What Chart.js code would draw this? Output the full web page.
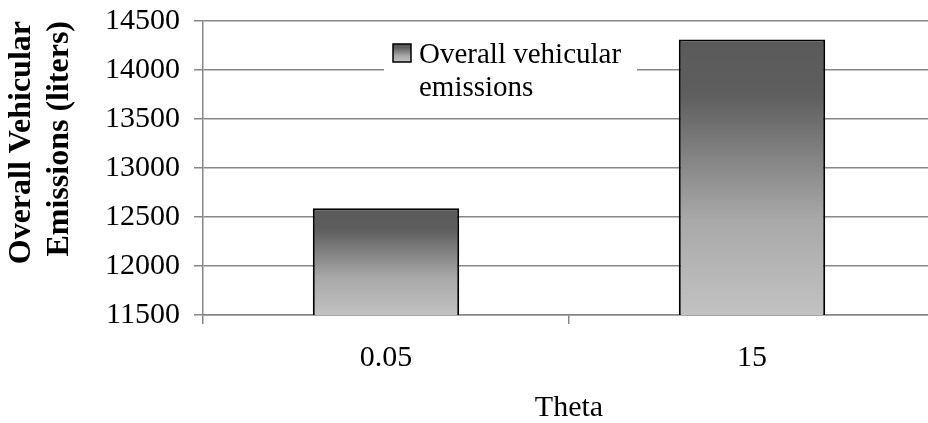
<!DOCTYPE html>
<html>
<head>
<meta charset="utf-8">
<script src="https://cdn.jsdelivr.net/npm/chart.js@4/dist/chart.umd.min.js"></script>
<style>
  html, body { margin: 0; padding: 0; background: #fff; overflow: hidden; }
  #wrap { width: 935px; height: 423px; }
</style>
</head>
<body>
<div id="wrap"><canvas id="chart" width="935" height="423"></canvas></div>
<script>
const categories = ['0.05', '15'];
const emissions = [12590, 14310];
const seriesLabel = ['Overall vehicular', 'emissions'];
const yTitle = ['Overall Vehicular', 'Emissions (liters)'];
const xTitle = 'Theta';

const serif = "'Liberation Serif', 'Times New Roman', serif";
const gridGray = '#878787';

function barGradient(ctx, top, bottom) {
  const g = ctx.createLinearGradient(0, top, 0, bottom);
  g.addColorStop(0, '#5a5a5a');
  g.addColorStop(0.2, '#5e5e5e');
  g.addColorStop(0.65, '#a8a8a8');
  g.addColorStop(1, '#c2c2c2');
  return g;
}

// legend drawn inside the plot, over the gridlines
const boxLegend = {
  id: 'boxLegend',
  afterDatasetsDraw(chart) {
    const {ctx, chartArea} = chart;
    const x = chartArea.left + 181, y = chartArea.top + 11;
    ctx.save();
    ctx.fillStyle = '#fff';
    ctx.fillRect(x, y, 253, 74);
    const mx = x + 9, my = y + 12, ms = 18;
    ctx.fillStyle = barGradient(ctx, my, my + ms);
    ctx.fillRect(mx, my, ms, ms);
    ctx.strokeStyle = '#000';
    ctx.lineWidth = 1.5;
    ctx.strokeRect(mx, my, ms, ms);
    ctx.fillStyle = '#000';
    ctx.font = '29px ' + serif;
    ctx.textBaseline = 'middle';
    ctx.fillText(seriesLabel[0], x + 35, y + 23);
    ctx.fillText(seriesLabel[1], x + 35, y + 56);
    ctx.restore();
  }
};

new Chart(document.getElementById('chart'), {
  type: 'bar',
  data: {
    labels: categories,
    datasets: [{
      label: seriesLabel.join(' '),
      data: emissions,
      backgroundColor: (c) => {
        const area = c.chart.chartArea;
        if (!area || c.parsed === undefined) return '#8a8a8a';
        const top = c.chart.scales.y.getPixelForValue(c.parsed.y);
        return barGradient(c.chart.ctx, top, area.bottom);
      },
      borderColor: '#000',
      borderWidth: 2,
      borderSkipped: false,
      barPercentage: 0.4,
      categoryPercentage: 1
    }]
  },
  options: {
    responsive: false,
    animation: false,
    layout: { padding: { top: 21, right: 0, left: 0, bottom: 0 } },
    plugins: {
      legend: { display: false },
      tooltip: { enabled: false }
    },
    scales: {
      x: {
        offset: true,
        afterFit: (axis) => { axis.height = 108; },
        grid: { drawOnChartArea: false, drawTicks: true, tickLength: 9, color: gridGray, lineWidth: 1.5, offset: true },
        border: { display: true, color: gridGray, width: 1.5 },
        ticks: { color: '#000', padding: 16, font: { family: serif, size: 30 } },
        title: { display: true, text: xTitle, color: '#000', padding: { top: 0, bottom: 0 }, font: { family: serif, size: 30, lineHeight: 1.0 } }
      },
      y: {
        min: 11500,
        max: 14500,
        afterFit: (axis) => { axis.width = 203; axis.paddingTop = 0; },
        grid: { color: gridGray, lineWidth: 1.5, tickLength: 9 },
        border: { display: true, color: gridGray, width: 1.5 },
        ticks: { stepSize: 500, color: '#000', padding: 14, font: { family: serif, size: 30 }, callback: (v) => String(v) },
        title: {
          display: true,
          text: yTitle,
          align: 'end',
          color: '#000',
          padding: { top: 3, bottom: 0 },
          font: { family: serif, size: 32, weight: 'bold', lineHeight: 1.19 }
        }
      }
    }
  },
  plugins: [boxLegend]
});
</script>
</body>
</html>
